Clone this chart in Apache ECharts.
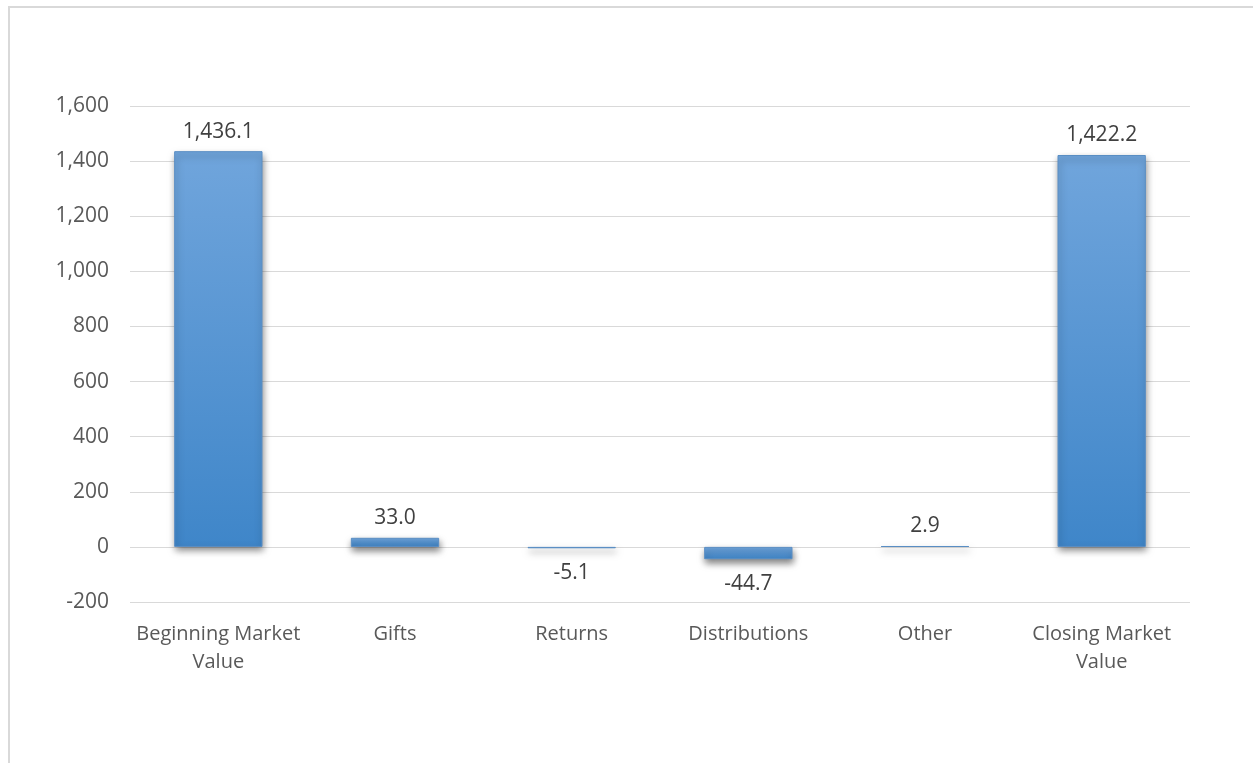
<!DOCTYPE html>
<html>
<head>
<meta charset="utf-8">
<script src="https://cdn.jsdelivr.net/npm/echarts@6/dist/echarts.min.js"></script>
<style>
html,body{margin:0;padding:0;background:#fff;}
#frame{position:absolute;left:8px;top:6px;width:1245px;height:757px;border-top:2px solid #d9d9d9;border-left:2px solid #d9d9d9;box-sizing:border-box;}
#chart{position:absolute;left:0;top:0;width:1253px;height:763px;}
</style>
</head>
<body>
<div id="frame"></div>
<div id="chart"></div>
<script>
var categories = ['Beginning Market\nValue', 'Gifts', 'Returns', 'Distributions', 'Other', 'Closing Market\nValue'];
var values = [1436.1, 33.0, -5.1, -44.7, 2.9, 1422.2];
var yTicks = { min: -200, max: 1600, interval: 200 };

function fmt(v, d) {
  return Number(v).toLocaleString('en-US', { minimumFractionDigits: d, maximumFractionDigits: d });
}

var chart = echarts.init(document.getElementById('chart'), null, { renderer: 'canvas' });
var font = 'Open Sans, Noto Sans, sans-serif';
chart.setOption({
  animation: false,
  grid: { left: 130, right: 63, top: 106, bottom: 161, containLabel: false },
  xAxis: {
    type: 'category',
    data: categories,
    axisLine: { show: false, onZero: false },
    axisTick: { show: false },
    axisLabel: { color: '#595959', fontSize: 20, fontFamily: font, lineHeight: 28, margin: 18, interval: 0 }
  },
  yAxis: {
    type: 'value',
    min: yTicks.min, max: yTicks.max, interval: yTicks.interval,
    axisLine: { show: false },
    axisTick: { show: false },
    splitLine: { lineStyle: { color: '#d9d9d9', width: 1 } },
    axisLabel: { color: '#595959', fontSize: 21, fontFamily: font, margin: 21,
      formatter: function (v) { return fmt(v, 0); } }
  },
  series: [{
    type: 'bar',
    barWidth: '50%',
    data: values.map(function (v) {
      return { value: v, label: { position: v < 0 ? 'bottom' : 'top', distance: v < 0 ? 14 : 9 } };
    }),
    itemStyle: {
      color: new echarts.graphic.LinearGradient(0, 0, 0, 1, [
        { offset: 0, color: '#70a5dc' },
        { offset: 1, color: '#3f86c9' }
      ]),
      borderColor: '#5a8ec4',
      borderWidth: 1,
      shadowColor: 'rgba(0,0,0,0.5)',
      shadowBlur: 7,
      shadowOffsetX: 1,
      shadowOffsetY: 4
    },
    label: {
      show: true,
      color: '#404040',
      fontSize: 21,
      fontFamily: font,
      formatter: function (p) { return fmt(p.value, 1); }
    }
  }]
});
</script>
</body>
</html>
